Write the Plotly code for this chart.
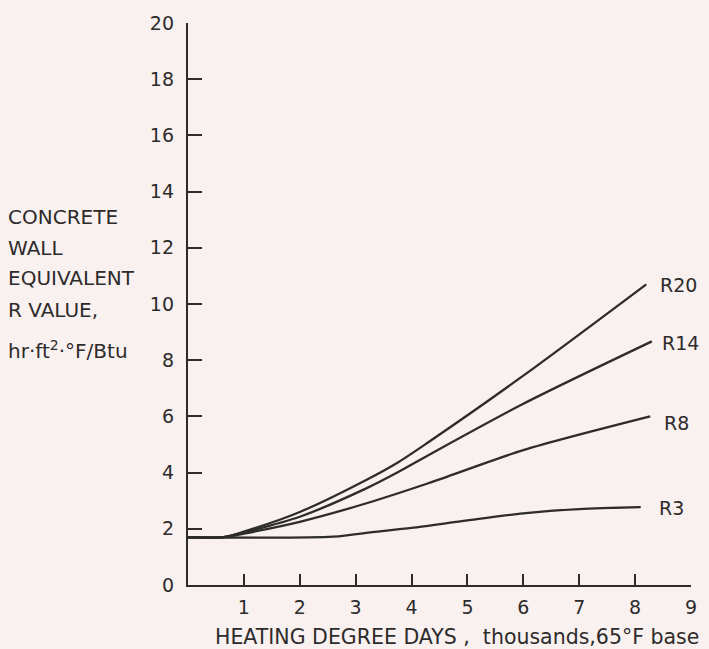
import plotly.graph_objects as go

# Heating degree days (thousands, 65°F base) and equivalent R value per insulation level
r20_x = [0, 0.63, 1.0, 2.0, 3.18, 3.77, 4.3, 6.0, 8.2]
r20_y = [1.7, 1.7, 1.9, 2.6, 3.73, 4.38, 5.08, 7.45, 10.7]

r14_x = [0, 0.63, 1.0, 2.0, 3.18, 3.77, 4.3, 6.0, 8.3]
r14_y = [1.7, 1.7, 1.87, 2.43, 3.43, 4.03, 4.62, 6.45, 8.67]

r8_x = [0, 0.63, 1.0, 2.0, 3.18, 4.3, 6.0, 8.27]
r8_y = [1.7, 1.7, 1.83, 2.25, 2.9, 3.62, 4.8, 6.0]

r3_x = [0, 2.6, 3.3, 4.0, 5.0, 6.0, 7.0, 8.1]
r3_y = [1.7, 1.72, 1.88, 2.03, 2.3, 2.55, 2.7, 2.77]

series = [
    ("R20", r20_x, r20_y, 10.66, 662),
    ("R14", r14_x, r14_y, 8.63, 664),
    ("R8", r8_x, r8_y, 5.75, 666),
    ("R3", r3_x, r3_y, 2.74, 661),
]

x_ticks = [1, 2, 3, 4, 5, 6, 7, 8, 9]
y_ticks = [0, 2, 4, 6, 8, 10, 12, 14, 16, 18, 20]

INK = "#2e2b2b"
PAPER = "#f8f1f0"
FONT = "DejaVu Sans"

W, H = 709, 649
ML, MR, MT, MB = 188, 14, 21, 64
PW = W - ML - MR

fig = go.Figure()
for name, xs, ys, _, _ in series:
    fig.add_trace(go.Scatter(
        x=xs, y=ys, mode="lines", name=name,
        line=dict(color=INK, width=2.3, shape="spline", smoothing=0.8),
        showlegend=False, hoverinfo="skip",
    ))

annotations = []
# curve labels at the right-hand ends
for name, xs, ys, ly, px in series:
    annotations.append(dict(
        text=name, xref="paper", yref="y", x=(px - ML) / PW, y=ly,
        xanchor="left", yanchor="middle", showarrow=False,
        font=dict(family=FONT, size=19, color=INK),
    ))

# left-hand axis caption, one line per annotation
caption = [
    ("CONCRETE", 13.1),
    ("WALL", 12.0),
    ("EQUIVALENT", 10.94),
    ("R VALUE,", 9.77),
    ("hr·ft<sup>2</sup>·°F/Btu", 8.35),
]
for txt, ly in caption:
    annotations.append(dict(
        text=txt, xref="paper", yref="y", x=(5 - ML) / PW, y=ly,
        xanchor="left", yanchor="middle", showarrow=False,
        font=dict(family=FONT, size=20, color=INK),
    ))

# bottom axis caption
annotations.append(dict(
    text="HEATING DEGREE DAYS ,  thousands,65°F base",
    xref="paper", yref="paper", x=(459 - ML) / PW, y=-(637 - (H - MB)) / (H - MT - MB),
    xanchor="center", yanchor="middle", showarrow=False,
    font=dict(family=FONT, size=20.5, color=INK),
))

fig.update_layout(
    width=W, height=H,
    margin=dict(l=ML, r=MR, t=MT, b=MB, pad=0),
    paper_bgcolor=PAPER, plot_bgcolor=PAPER,
    annotations=annotations,
    xaxis=dict(
        range=[0, 9], tickvals=x_ticks, ticktext=[str(v) for v in x_ticks],
        showgrid=False, zeroline=False, showline=True, linecolor=INK, linewidth=2.4,
        ticks="inside", ticklen=11, tickwidth=2.2, tickcolor=INK,
        ticklabelstandoff=4,
        tickfont=dict(family=FONT, size=19, color=INK),
    ),
    yaxis=dict(
        range=[0, 20], tickvals=y_ticks, ticktext=[str(v) for v in y_ticks],
        showgrid=False, zeroline=False, showline=True, linecolor=INK, linewidth=2.4,
        ticks="inside", ticklen=14, tickwidth=2.2, tickcolor=INK,
        ticklabelstandoff=8,
        tickfont=dict(family=FONT, size=19, color=INK),
    ),
)

fig.write_html("out.html")
